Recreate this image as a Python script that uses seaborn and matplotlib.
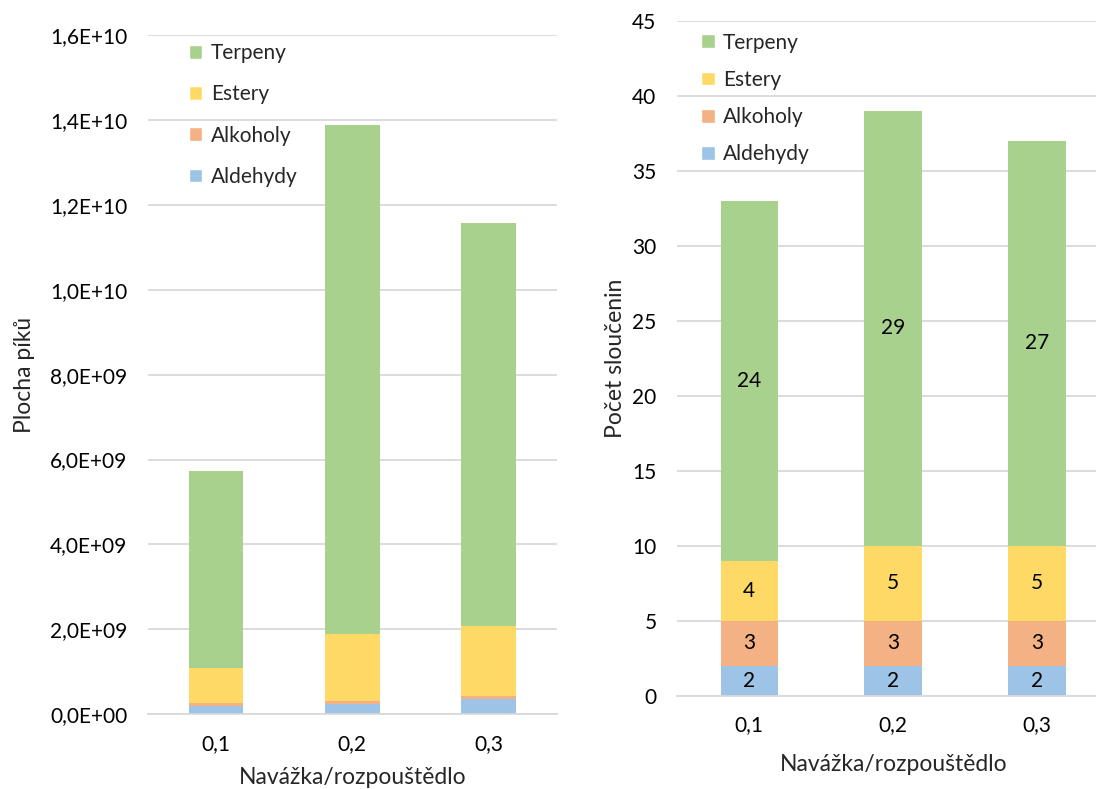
import numpy as np
import pandas as pd
import matplotlib
matplotlib.use("Agg")
import matplotlib.pyplot as plt
import seaborn as sns
from matplotlib.patches import Patch

# Data
kategorie = ["0,1", "0,2", "0,3"]
skupiny = ["Aldehydy", "Alkoholy", "Estery", "Terpeny"]

# Plocha píků (levý graf)
plocha_aldehydy = [0.20e9, 0.24e9, 0.36e9]
plocha_alkoholy = [0.06e9, 0.08e9, 0.08e9]
plocha_estery = [0.84e9, 1.57e9, 1.64e9]
plocha_terpeny = [4.64e9, 11.99e9, 9.50e9]

# Počet sloučenin (pravý graf)
pocet_aldehydy = [2, 2, 2]
pocet_alkoholy = [3, 3, 3]
pocet_estery = [4, 5, 5]
pocet_terpeny = [24, 29, 27]

barvy = {
    "Terpeny": "#A9D18E",
    "Estery": "#FFD966",
    "Alkoholy": "#F4B183",
    "Aldehydy": "#9DC3E6",
}

sns.set_style("white")
plt.rcParams["font.family"] = ["Lato", "DejaVu Sans"]
plt.rcParams["font.size"] = 15

FS_TICK = 15
FS_LABEL = 16.5


def stacked(ax, serie, popisky=False):
    spodek = np.zeros(len(kategorie))
    for nazev, hodnoty in zip(skupiny, serie):
        df = pd.DataFrame({"kat": kategorie, "val": hodnoty})
        sns.barplot(data=df, x="kat", y="val", ax=ax, color=barvy[nazev],
                    width=0.4, bottom=spodek, saturation=1, linewidth=0)
        if popisky:
            ax.bar_label(ax.containers[-1], labels=[str(v) for v in hodnoty],
                         label_type="center", fontsize=15, color="black")
        spodek = spodek + np.array(hodnoty)


def styl(ax):
    for s in ["top", "right", "left"]:
        ax.spines[s].set_visible(False)
    ax.spines["bottom"].set_color("#D9D9D9")
    ax.spines["bottom"].set_linewidth(1.3)
    ax.yaxis.grid(True, color="#D9D9D9", linewidth=1.3)
    ax.set_axisbelow(True)
    ax.tick_params(axis="both", length=0, labelsize=FS_TICK, colors="black")
    ax.tick_params(axis="x", pad=14)
    ax.tick_params(axis="y", pad=15)
    ax.set_xlim(-0.5, 2.5)


fig = plt.figure(figsize=(10.96, 7.89), dpi=100)
ax1 = fig.add_axes([0.135, 0.0947, 0.373, 0.861])
ax2 = fig.add_axes([0.618, 0.1183, 0.394, 0.855])

# Levý graf
stacked(ax1, [plocha_aldehydy, plocha_alkoholy, plocha_estery, plocha_terpeny])
styl(ax1)
ax1.set_ylim(0, 1.6e10)
ticky1 = np.arange(0, 1.61e10, 2e9)
ax1.set_yticks(ticky1)
ax1.set_yticklabels([f"{t:.1E}".replace(".", ",") for t in ticky1])
ax1.set_xlabel("Navážka/rozpouštědlo", fontsize=FS_LABEL)
ax1.set_ylabel("Plocha píků", fontsize=FS_LABEL)
ax1.xaxis.set_label_coords(0.5, -0.077)
ax1.yaxis.set_label_coords(-0.277, 0.5)

# Pravý graf
stacked(ax2, [pocet_aldehydy, pocet_alkoholy, pocet_estery, pocet_terpeny], popisky=True)
styl(ax2)
ax2.set_ylim(0, 45)
ax2.set_yticks(range(0, 46, 5))
ax2.set_xlabel("Navážka/rozpouštědlo", fontsize=FS_LABEL)
ax2.set_ylabel("Počet sloučenin", fontsize=FS_LABEL)
ax2.xaxis.set_label_coords(0.5, -0.087)
ax2.yaxis.set_label_coords(-0.12, 0.5)

poradi = ["Terpeny", "Estery", "Alkoholy", "Aldehydy"]
handles = [Patch(facecolor=barvy[n], label=n) for n in poradi]

ax1.legend(handles=handles, loc="upper left", bbox_to_anchor=(0.10, 0.988),
           frameon=False, fontsize=FS_TICK, handlelength=0.65, handleheight=0.65,
           handletextpad=0.4, labelspacing=1.02, borderaxespad=0, borderpad=0)
ax2.legend(handles=handles, loc="upper left", bbox_to_anchor=(0.055, 0.983),
           frameon=False, fontsize=FS_TICK, handlelength=0.65, handleheight=0.65,
           handletextpad=0.4, labelspacing=0.83, borderaxespad=0, borderpad=0)

fig.savefig("out.png", dpi=100)
